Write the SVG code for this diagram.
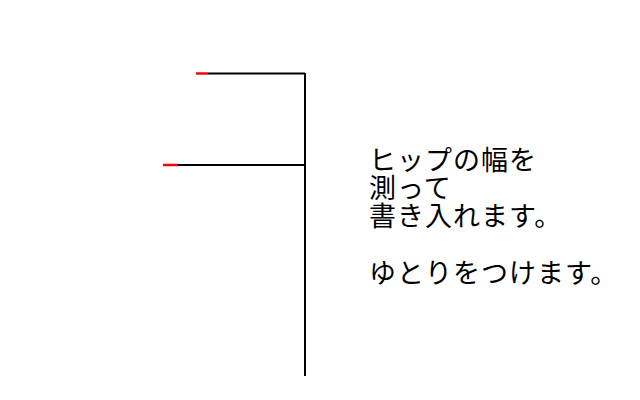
<svg xmlns="http://www.w3.org/2000/svg" width="640" height="400" viewBox="0 0 640 400">
<style>
.ln{stroke:#000;stroke-width:2;fill:none}
.rd{stroke:#f00;stroke-width:2.5;fill:none}
.t{font-family:"Noto Sans CJK JP","Noto Sans CJK SC",sans-serif;font-size:27px;letter-spacing:1px;fill:#000}
</style>
<rect width="640" height="400" fill="#fff"/>
<g id="connectors">
<line class="ln" x1="305" y1="73" x2="305" y2="376"/>
<line class="ln" x1="208" y1="73.5" x2="305" y2="73.5"/>
<line class="rd" x1="196" y1="73.5" x2="208" y2="73.5"/>
<line class="ln" x1="178" y1="165" x2="305" y2="165"/>
<line class="rd" x1="163" y1="165" x2="178" y2="165"/>
</g>
<g id="label">
<text class="t" x="369" y="170">ヒップの幅を</text>
<text class="t" x="369" y="198">測って</text>
<text class="t" x="369" y="226">書き入れます。</text>
<text class="t" x="369" y="283">ゆとりをつけます。</text>
</g>
</svg>
